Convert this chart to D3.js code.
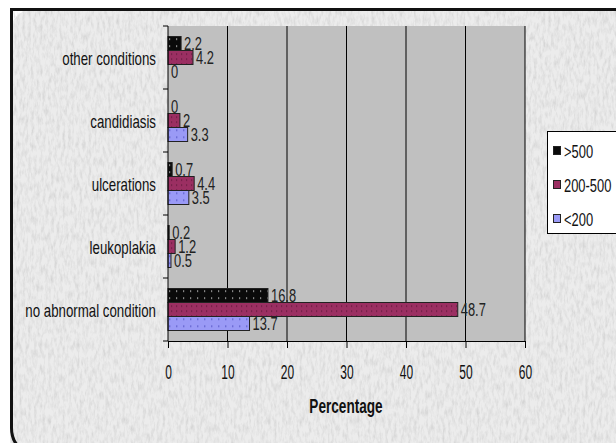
<!DOCTYPE html>
<html>
<head>
<meta charset="utf-8">
<script src="https://cdn.jsdelivr.net/npm/d3@7"></script>
<style>
  html, body { margin: 0; padding: 0; background: #fff; }
  svg { display: block; }
  text { font-family: "Liberation Sans", Arial, sans-serif; fill: #111; }
</style>
</head>
<body>
<svg id="chart" width="616" height="443"></svg>
<script>
// Oral conditions by CD4 count group
const categories = ["other conditions", "candidiasis", "ulcerations", "leukoplakia", "no abnormal condition"];
const seriesNames = [">500", "200-500", "<200"];
const above500   = [2.2, 0, 0.7, 0.2, 16.8];
const from200to500 = [4.2, 2, 4.4, 1.2, 48.7];
const below200   = [0, 3.3, 3.5, 0.5, 13.7];
const xTicks = [0, 10, 20, 30, 40, 50, 60];
const xTitle = "Percentage";

const seriesValues = [above500, from200to500, below200];

const svg = d3.select("#chart");
const W = 616, H = 443;
const defs = svg.append("defs");

// condensed lettering: place text at (x, y) and squeeze it horizontally
function narrow(sel, px, py, sx) {
  sel.attr("transform", (d, i) => `translate(${px(d, i)},${py(d, i)}) scale(${sx},1)`)
    .attr("x", 0).attr("y", 0);
}

// textured card background
const tex = defs.append("filter").attr("id", "grain").attr("x", 0).attr("y", 0).attr("width", 1).attr("height", 1);
tex.append("feTurbulence").attr("type", "fractalNoise").attr("baseFrequency", "0.35 0.12").attr("numOctaves", 3).attr("seed", 4).attr("result", "n");
tex.append("feColorMatrix").attr("type", "matrix")
  .attr("values", "0 0 0 0 0.6  0 0 0 0 0.6  0 0 0 0 0.6  0 0 0 -1.6 0.95");

// dotted fills for the bars
function dotPattern(id, bg, dot, size, r) {
  const p = defs.append("pattern").attr("id", id).attr("patternUnits", "userSpaceOnUse")
    .attr("width", size).attr("height", size);
  p.append("rect").attr("width", size).attr("height", size).attr("fill", bg);
  p.append("rect").attr("x", 1).attr("y", 2).attr("width", r).attr("height", r).attr("fill", dot);
}
dotPattern("pBlack", "#0a0a0a", "#d8d8d8", 7, 1.2);
dotPattern("pMaroon", "#9b2f62", "#5e1a3a", 5, 1.2);
dotPattern("pBlue", "#9a9af6", "#5a5ac8", 7, 1.4);
const fills = ["url(#pBlack)", "url(#pMaroon)", "url(#pBlue)"];
const swatchFills = ["#0a0a0a", "#9b2f62", "#9a9af6"];

// card with frame
const card = svg.append("g");
card.append("rect").attr("x", 10).attr("y", 9).attr("width", W + 20).attr("height", H + 20)
  .attr("rx", 24).attr("fill", "#ececec");
card.append("rect").attr("x", 10).attr("y", 9).attr("width", W + 20).attr("height", H + 20)
  .attr("rx", 24).attr("fill", "#fff").attr("filter", "url(#grain)").attr("opacity", 0.9);
card.append("path")
  .attr("d", `M${W + 5},9.5 H11.5 V428 Q11.5,447 30,453`)
  .attr("fill", "none").attr("stroke", "#111").attr("stroke-width", 3);

// plot area
const plotLeft = 168, plotRight = 525, plotTop = 26, plotBottom = 341;
const x = d3.scaleLinear().domain([0, 60]).range([plotLeft, plotRight]);
const y = d3.scaleBand().domain(categories).range([plotTop, plotBottom]).paddingInner(1 / 3).paddingOuter(1 / 6);
const ySub = d3.scaleBand().domain(seriesNames).range([0, y.bandwidth()]);

svg.append("rect").attr("x", plotLeft).attr("y", plotTop).attr("width", plotRight - plotLeft).attr("height", plotBottom - plotTop)
  .attr("fill", "#c0c0c0");

// vertical gridlines
svg.append("g").selectAll("line").data(xTicks.filter(t => t > 0)).join("line")
  .attr("x1", d => x(d)).attr("x2", d => x(d)).attr("y1", plotTop).attr("y2", plotBottom)
  .attr("stroke", "#000").attr("stroke-width", 1);

// bars with value labels
const groups = svg.append("g").selectAll("g").data(categories).join("g")
  .attr("transform", d => `translate(0,${y(d)})`);
seriesNames.forEach((s, si) => {
  groups.append("rect")
    .attr("x", x(0))
    .attr("y", ySub(s))
    .attr("width", (d, i) => x(seriesValues[si][i]) - x(0))
    .attr("height", ySub.bandwidth())
    .attr("fill", fills[si])
    .attr("stroke", (d, i) => seriesValues[si][i] > 0 ? "#222" : "none")
    .attr("stroke-width", 1);
  groups.append("text")
    .attr("dy", "0.36em")
    .attr("font-size", 19)
    .style("fill", "#222")
    .text((d, i) => seriesValues[si][i])
    .call(narrow, (d, i) => x(seriesValues[si][i]) + 3, () => ySub(s) + ySub.bandwidth() / 2, 0.68);
});

// y axis: line with ticks between categories
const yAxis = svg.append("g");
yAxis.append("line").attr("x1", plotLeft).attr("x2", plotLeft).attr("y1", plotTop).attr("y2", plotBottom).attr("stroke", "#000");
const bounds = d3.range(categories.length + 1).map(i => plotTop + i * y.step());
yAxis.selectAll("line.t").data(bounds).join("line").attr("class", "t")
  .attr("x1", plotLeft - 5).attr("x2", plotLeft).attr("y1", d => d).attr("y2", d => d).attr("stroke", "#000");
yAxis.selectAll("text").data(categories).join("text")
  .attr("dy", "0.36em").attr("text-anchor", "end").attr("font-size", 19)
  .text(d => d)
  .call(narrow, () => 156, d => y(d) + y.bandwidth() / 2 + 1, 0.70);

// x axis
const xAxis = svg.append("g").attr("transform", `translate(0,${plotBottom})`)
  .call(d3.axisBottom(x).tickValues(xTicks).tickSize(7).tickPadding(17));
xAxis.attr("font-family", null);
xAxis.select(".domain").attr("stroke", "#000");
xAxis.selectAll(".tick line").attr("stroke", "#000");
xAxis.selectAll(".tick text").attr("font-size", 20).style("fill", "#111")
  .attr("transform", "scale(0.6,1)");

svg.append("text").attr("text-anchor", "middle")
  .attr("font-size", 20).attr("font-weight", "bold").text(xTitle)
  .call(narrow, () => 346, () => 413, 0.68);

// legend
const lg = svg.append("g");
lg.append("rect").attr("x", 547.5).attr("y", 131.5).attr("width", 80).attr("height", 102)
  .attr("fill", "#fff").attr("stroke", "#000");
seriesNames.forEach((s, i) => {
  const cy = 151 + i * 34;
  lg.append("rect").attr("x", 553.5).attr("y", cy - 4.5).attr("width", 7).attr("height", 8)
    .attr("fill", swatchFills[i]).attr("stroke", "#222");
  lg.append("text").attr("dy", "0.36em").attr("font-size", 19).text(s)
    .call(narrow, () => 564, () => cy, 0.68);
});
</script>
</body>
</html>
